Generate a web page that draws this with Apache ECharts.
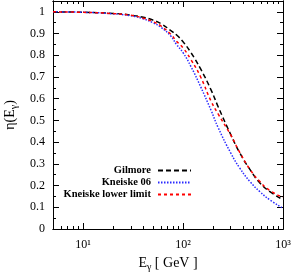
<!DOCTYPE html>
<html><head><meta charset="utf-8">
<script src="https://cdn.jsdelivr.net/npm/echarts@6/dist/echarts.min.js"></script>
<style>html,body{margin:0;padding:0;background:#fff}#c{width:299px;height:272px}</style>
</head><body><div id="c"></div>
<script>
const seriesNames = ['Gilmore', 'Kneiske 06', 'Kneiske lower limit'];
const energies = [5, 10, 20, 30, 40, 50, 60, 75, 86, 100, 120, 150, 190, 225, 300, 370, 470, 590, 740, 1000];
const gilmore = [1.0, 0.998, 0.993, 0.985, 0.975, 0.962, 0.946, 0.915, 0.894, 0.862, 0.812, 0.737, 0.642, 0.562, 0.435, 0.350, 0.272, 0.211, 0.172, 0.135];
const kneiske06 = [1.0, 0.998, 0.991, 0.982, 0.968, 0.950, 0.929, 0.890, 0.850, 0.812, 0.748, 0.655, 0.548, 0.466, 0.350, 0.280, 0.217, 0.171, 0.134, 0.096];
const kneiskeLower = [1.0, 0.998, 0.992, 0.984, 0.971, 0.955, 0.935, 0.898, 0.865, 0.834, 0.780, 0.700, 0.590, 0.529, 0.433, 0.352, 0.273, 0.217, 0.177, 0.146];
const xMajorTicks = [10, 100, 1000];
const xTickLabels = ['10¹', '10²', '10³'];
const xMinorTicks = [5, 6, 7, 8, 9, 20, 30, 40, 50, 60, 70, 80, 90, 200, 300, 400, 500, 600, 700, 800, 900];
const yMajorTicks = [0, 0.1, 0.2, 0.3, 0.4, 0.5, 0.6, 0.7, 0.8, 0.9, 1];
const yTickLabels = ['0', '0.1', '0.2', '0.3', '0.4', '0.5', '0.6', '0.7', '0.8', '0.9', '1'];
const yMinorTicks = [0.05, 0.15, 0.25, 0.35, 0.45, 0.55, 0.65, 0.75, 0.85, 0.95];

const FONT = 'Liberation Serif';
const lineCol = '#000';
const richName = {
  n: {fontFamily: FONT, fontSize: 14, color: '#000'},
  s: {fontFamily: FONT, fontSize: 10, color: '#000', padding: [7, 0, 0, 0]}
};
function xAxisDef(pos, ticks, len, labels, name) {
  return {
    type: 'log', logBase: 10, min: 5, max: 1000, position: pos,
    axisLine: {show: true, onZero: false, lineStyle: {color: lineCol, width: 1}},
    axisTick: {show: true, inside: true, length: len, customValues: ticks, lineStyle: {color: lineCol, width: 1}},
    axisLabel: labels ? {show: true, customValues: xMajorTicks, margin: 10,
      formatter: v => { const i = xMajorTicks.findIndex(t => Math.abs(t - v) < 1e-6 * t); return i >= 0 ? xTickLabels[i] : ''; },
      fontFamily: FONT, fontSize: 12, color: '#000'} : {show: false},
    splitLine: {show: false}, minorTick: {show: false},
    name: name || '', nameLocation: 'middle', nameGap: 26,
    nameTextStyle: {rich: richName}
  };
}
function yAxisDef(pos, ticks, len, labels, name) {
  return {
    type: 'value', min: 0, max: 1.05, position: pos,
    axisLine: {show: true, onZero: false, lineStyle: {color: lineCol, width: 1}},
    axisTick: {show: true, inside: true, length: len, customValues: ticks, lineStyle: {color: lineCol, width: 1}},
    axisLabel: labels ? {show: true, customValues: yMajorTicks, margin: 8,
      formatter: v => { const i = yMajorTicks.findIndex(t => Math.abs(t - v) < 1e-6); return i >= 0 ? yTickLabels[i] : ''; },
      fontFamily: FONT, fontSize: 12, color: '#000'} : {show: false},
    splitLine: {show: false},
    name: name || '', nameLocation: 'middle', nameGap: 30, nameRotate: 90,
    nameTextStyle: {rich: richName}
  };
}
function mk(vals) { return energies.map((e, i) => [e, vals[i]]); }
const chart = echarts.init(document.getElementById('c'), null, {renderer: 'canvas'});
chart.setOption({
  animation: false,
  backgroundColor: '#fff',
  grid: {left: 53, right: 16, top: 1, bottom: 43, containLabel: false, outerBoundsMode: 'none'},
  xAxis: [
    xAxisDef('bottom', xMajorTicks, 6, true, '{n|E}{s|γ}{n| [ GeV ]}'),
    xAxisDef('bottom', xMinorTicks, 3, false),
    xAxisDef('top', xMajorTicks, 6, false),
    xAxisDef('top', xMinorTicks, 3, false)
  ],
  yAxis: [
    yAxisDef('left', yMajorTicks, 6, true, '{n|η(E}{s|γ}{n|)}'),
    yAxisDef('left', yMinorTicks, 3, false),
    yAxisDef('right', yMajorTicks, 6, false),
    yAxisDef('right', yMinorTicks, 3, false)
  ],
  legend: {
    orient: 'vertical', align: 'right', right: 102, top: 160,
    itemWidth: 33, itemHeight: 10, itemGap: 1,
    data: seriesNames,
    itemStyle: {opacity: 0},
    textStyle: {fontFamily: FONT, fontWeight: 'bold', fontSize: 10.5, color: '#000', padding: [0, 2, 0, 0]}
  },
  series: [
    {name: seriesNames[0], type: 'line', data: mk(gilmore), smooth: true, symbol: 'none',
      lineStyle: {color: '#000', width: 1.5, type: [5, 3]}, itemStyle: {color: '#000'}},
    {name: seriesNames[1], type: 'line', data: mk(kneiske06), smooth: true, symbol: 'none',
      lineStyle: {color: '#2a2aff', width: 1.5, type: [1.5, 1.5]}, itemStyle: {color: '#2a2aff'}},
    {name: seriesNames[2], type: 'line', data: mk(kneiskeLower), smooth: true, symbol: 'none',
      lineStyle: {color: '#ff0000', width: 1.5, type: [3, 3]}, itemStyle: {color: '#ff0000'}}
  ]
});
</script></body></html>
